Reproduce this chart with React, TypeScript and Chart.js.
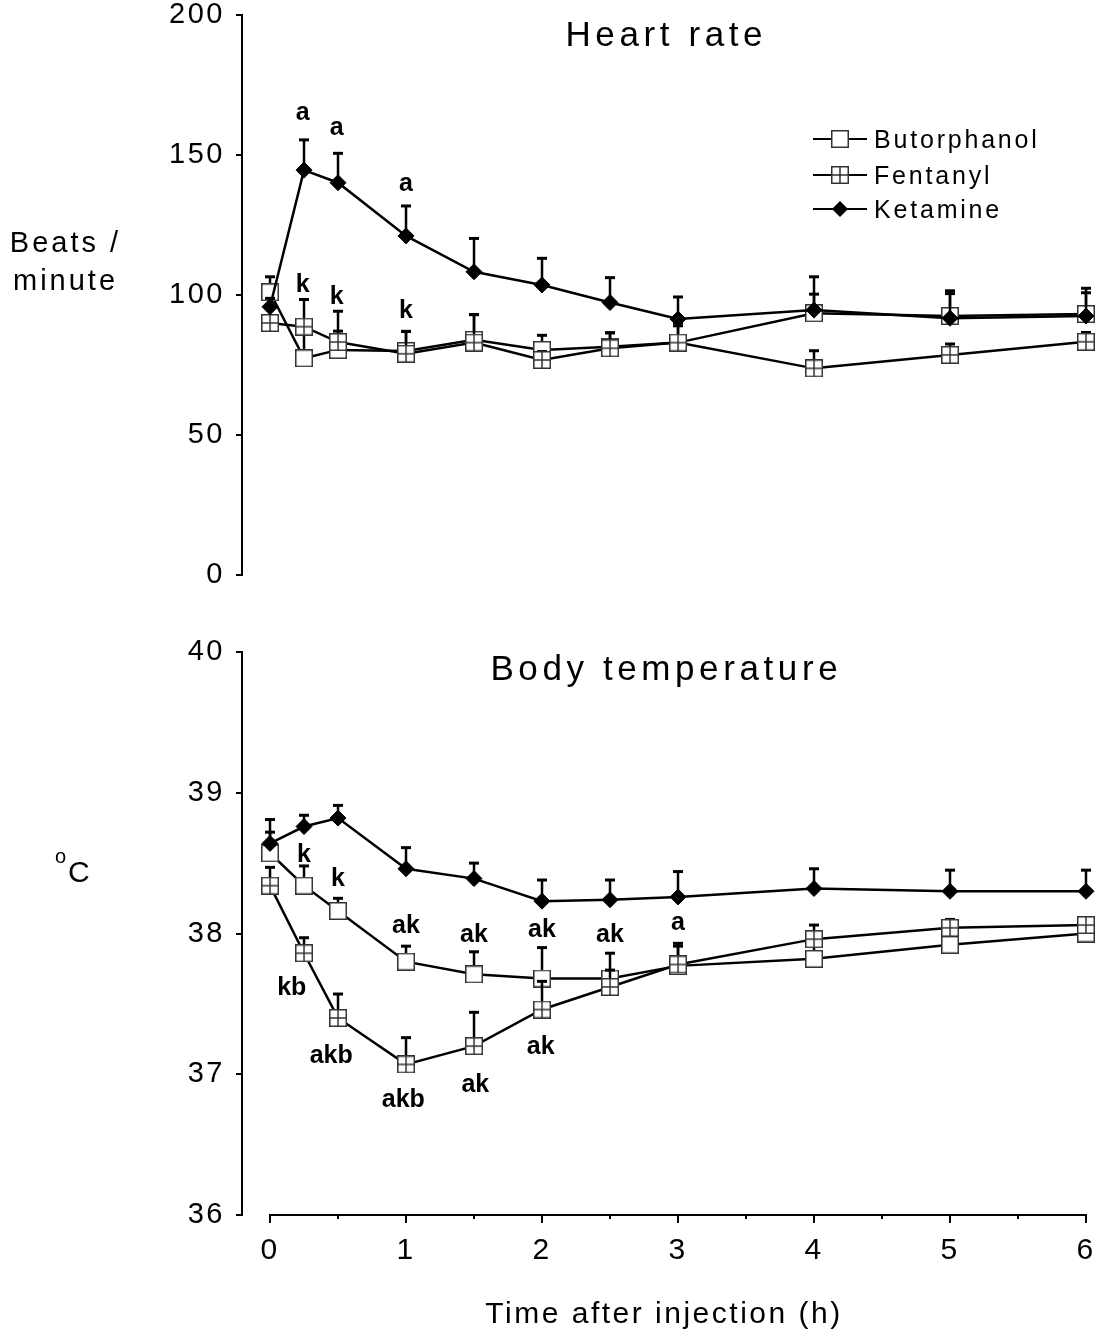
import React, { useEffect, useRef } from 'react';
import { Chart, registerables } from 'chart.js';

Chart.register(...registerables);

// ---------------- data ----------------
const times = [0, 0.25, 0.5, 1, 1.5, 2, 2.5, 3, 4, 5, 6];
const seriesNames = ['Butorphanol', 'Fentanyl', 'Ketamine'];

const hrButorphanol = [101, 77.4, 80.4, 80, 84, 80.4, 81.5, 83, 93.5, 92.5, 93.2];
const hrButorphanolErr = [5.5, 10, 6.7, 7, 9, 5.2, 5, 6, 6.8, 8, 7.6];
const hrFentanyl = [90, 88.7, 83.2, 79, 83, 76.8, 81, 83, 73.8, 78.6, 83.3];
const hrFentanylErr = [2, 9.7, 11, 8, 10, 3, 5.5, 7, 6.3, 3.9, 3.3];
const hrKetamine = [95.8, 144.6, 140.1, 121.1, 108.3, 103.6, 97.3, 91.4, 94.6, 91.7, 92.5];
const hrKetamineErr = [3, 10.8, 10.5, 10.7, 11.9, 9.5, 8.9, 7.9, 11.9, 9.8, 9.9];

const tempButorphanol = [38.57, 38.34, 38.16, 37.8, 37.71, 37.68, 37.68, 37.77, 37.82, 37.92, 38.0];
const tempButorphanolErr = [0.15, 0.14, 0.09, 0.11, 0.16, 0.22, 0.18, 0.16, 0.1, 0.1, 0.05];
const tempFentanyl = [38.34, 37.86, 37.4, 37.07, 37.2, 37.46, 37.62, 37.78, 37.96, 38.04, 38.06];
const tempFentanylErr = [0.13, 0.11, 0.17, 0.19, 0.24, 0.2, 0.12, 0.13, 0.1, 0.06, 0.03];
const tempKetamine = [38.64, 38.76, 38.82, 38.46, 38.39, 38.23, 38.24, 38.26, 38.32, 38.3, 38.3];
const tempKetamineErr = [0.17, 0.08, 0.09, 0.15, 0.11, 0.15, 0.14, 0.18, 0.14, 0.15, 0.15];

const hrTicks = [0, 50, 100, 150, 200];
const hrTickLabels = ['0', '50', '100', '150', '200'];
const tempTicks = [36, 37, 38, 39, 40];
const tempTickLabels = ['36', '37', '38', '39', '40'];
const xMajorTicks = [0, 1, 2, 3, 4, 5, 6];
const xTickLabels = ['0', '1', '2', '3', '4', '5', '6'];
const xMinorTicks = [0.5, 1.5, 2.5, 3.5, 4.5, 5.5];

const hrTitle = 'Heart rate';
const tempTitle = 'Body temperature';
const hrAxisLabel = ['Beats /', 'minute'];
const tempAxisLabel = ['o', 'C'];
const xAxisTitle = 'Time after injection (h)';

// significance letters: [text, time, value]
const hrLetters: [string, number, number][] = [
  ['a', 0.24, 165], ['a', 0.49, 159.3], ['a', 1.0, 139.6],
  ['k', 0.24, 104.3], ['k', 0.49, 100], ['k', 1.0, 95],
];
const tempLetters: [string, number, number][] = [
  ['k', 0.25, 38.57], ['k', 0.5, 38.4], ['ak', 1.0, 38.07], ['ak', 1.5, 38.0],
  ['ak', 2.0, 38.04], ['ak', 2.5, 38.0], ['a', 3.0, 38.07],
  ['kb', 0.16, 37.63], ['akb', 0.45, 37.14], ['akb', 0.98, 36.83], ['ak', 1.51, 36.94], ['ak', 1.99, 37.21],
];

// ---------------- style ----------------
const FONT = '"Liberation Sans", Arial, Helvetica, sans-serif';
const X_MIN = -0.206;
const X_MAX = 6;

function makeSquare(cross: boolean): HTMLCanvasElement {
  const s = 18;
  const c = document.createElement('canvas');
  c.width = s;
  c.height = s;
  const g = c.getContext('2d')!;
  g.fillStyle = '#fff';
  g.fillRect(0, 0, s, s);
  g.strokeStyle = '#333';
  g.lineWidth = 1.5;
  g.strokeRect(0.75, 0.75, s - 1.5, s - 1.5);
  if (cross) {
    g.beginPath();
    g.moveTo(s / 2, 1);
    g.lineTo(s / 2, s - 1);
    g.moveTo(1, s / 2);
    g.lineTo(s - 1, s / 2);
    g.stroke();
  }
  return c;
}

function drawMarker(ctx: CanvasRenderingContext2D, ds: any, x: number, y: number) {
  const st = ds.pointStyle;
  if (st && typeof st === 'object') {
    ctx.drawImage(st, x - st.width / 2, y - st.height / 2);
  } else {
    const r = ds.pointRadius;
    ctx.fillStyle = '#000';
    ctx.beginPath();
    ctx.moveTo(x, y - r);
    ctx.lineTo(x + r, y);
    ctx.lineTo(x, y + r);
    ctx.lineTo(x - r, y);
    ctx.closePath();
    ctx.fill();
  }
}

function spacedText(ctx: CanvasRenderingContext2D, text: string, x: number, y: number, size: number, spacing: number, align: CanvasTextAlign, weight = '') {
  ctx.save();
  (ctx as any).letterSpacing = spacing + 'px';
  ctx.font = `${weight}${size}px ${FONT}`;
  ctx.fillStyle = '#000';
  ctx.textAlign = align;
  ctx.textBaseline = 'alphabetic';
  const dx = align === 'center' ? spacing / 2 : 0;
  ctx.fillText(text, x + dx, y);
  ctx.restore();
}

interface PanelOpts {
  values: number[][];
  errors: number[][];
  yMin: number;
  yMax: number;
  yTicks: number[];
  yTickLabels: string[];
  showX: boolean;
  padTop: number;
  padBottom: number;
  letters: [string, number, number][];
  drawExtra: (chart: any) => void;
}

function buildConfig(p: PanelOpts, sqOpen: HTMLCanvasElement, sqCross: HTMLCanvasElement): any {
  const styles = [
    { pointStyle: sqOpen, radius: 9, order: 3, bg: '#fff' },
    { pointStyle: sqCross, radius: 9, order: 2, bg: '#fff' },
    { pointStyle: 'rectRot', radius: 8, order: 1, bg: '#000' },
  ];
  const datasets = seriesNames.map((name, i) => ({
    label: name,
    data: times.map((t, j) => ({ x: t, y: p.values[i][j] })),
    errors: p.errors[i],
    borderColor: '#000',
    borderWidth: 2.5,
    backgroundColor: styles[i].bg,
    pointStyle: styles[i].pointStyle,
    pointRadius: styles[i].radius,
    pointHoverRadius: styles[i].radius,
    pointBorderWidth: 1,
    pointBackgroundColor: styles[i].bg,
    pointBorderColor: '#000',
    order: styles[i].order,
    clip: false,
    tension: 0,
    fill: false,
  }));

  const spacingPlugin = {
    id: 'spacing',
    beforeDraw(chart: any) {
      chart.ctx.letterSpacing = '2.5px';
    },
  };

  const errorBarPlugin = {
    id: 'errorBars',
    beforeDatasetDraw(chart: any, args: any) {
      const ds: any = chart.data.datasets[args.index];
      const errs: number[] = ds.errors;
      if (!errs) return;
      const ys = chart.scales.y;
      const ctx = chart.ctx;
      ctx.save();
      ctx.strokeStyle = '#000';
      args.meta.data.forEach((pt: any, j: number) => {
        const top = ys.getPixelForValue(ds.data[j].y + errs[j]);
        ctx.lineWidth = 2.5;
        ctx.beginPath();
        ctx.moveTo(pt.x, pt.y);
        ctx.lineTo(pt.x, top);
        ctx.stroke();
        ctx.lineWidth = 3;
        ctx.beginPath();
        ctx.moveTo(pt.x - 5, top);
        ctx.lineTo(pt.x + 5, top);
        ctx.stroke();
      });
      ctx.restore();
    },
  };

  const lettersPlugin = {
    id: 'letters',
    afterDatasetsDraw(chart: any) {
      const ctx = chart.ctx;
      const xs = chart.scales.x;
      const ys = chart.scales.y;
      const size = 25;
      p.letters.forEach(([txt, t, v]) => {
        const hasAsc = /[kbdlht]/.test(txt);
        const y = ys.getPixelForValue(v) + (hasAsc ? 0.358 : 0.26) * size;
        spacedText(ctx, txt, xs.getPixelForValue(t), y, size, 0, 'center', 'bold ');
      });
    },
  };

  const extraPlugin = {
    id: 'extra',
    afterDraw(chart: any) {
      p.drawExtra(chart);
    },
  };

  return {
    type: 'line',
    data: { datasets },
    plugins: [spacingPlugin, errorBarPlugin, lettersPlugin, extraPlugin],
    options: {
      responsive: false,
      animation: false,
      devicePixelRatio: 1,
      events: [],
      layout: { padding: { left: 0, right: 13, top: p.padTop, bottom: p.padBottom } },
      plugins: { legend: { display: false }, tooltip: { enabled: false }, title: { display: false } },
      scales: {
        x: {
          type: 'linear',
          min: X_MIN,
          max: X_MAX,
          display: p.showX,
          afterBuildTicks: (s: any) => {
            s.ticks = [...xMajorTicks, ...xMinorTicks].sort((a, b) => a - b).map((v) => ({ value: v }));
          },
          afterFit: (s: any) => {
            s.height = p.showX ? 123 : 0;
            s.paddingLeft = 0;
            s.paddingRight = 0;
          },
          grid: { display: true, drawOnChartArea: false, drawTicks: true, tickLength: 8, color: 'rgba(0,0,0,0)' },
          border: { display: false },
          ticks: {
            autoSkip: false,
            maxRotation: 0,
            minRotation: 0,
            padding: 13,
            color: '#000',
            font: { size: 30, family: FONT, lineHeight: 1 },
            callback: (v: number) => {
              const k = xMajorTicks.indexOf(v);
              return k >= 0 ? xTickLabels[k] : '';
            },
          },
          title: {
            display: true,
            text: xAxisTitle,
            color: '#000',
            font: { size: 30, family: FONT },
            padding: { top: 0, bottom: 5 },
          },
        },
        y: {
          type: 'linear',
          min: p.yMin,
          max: p.yMax,
          afterBuildTicks: (s: any) => {
            s.ticks = p.yTicks.map((v) => ({ value: v }));
          },
          afterFit: (s: any) => {
            s.width = 242;
            s.paddingTop = 0;
            s.paddingBottom = 0;
          },
          grid: { drawOnChartArea: false, drawTicks: true, tickLength: 6, color: '#000', lineWidth: 2 },
          border: { display: true, color: '#000', width: 2 },
          ticks: {
            padding: 11,
            color: '#000',
            font: { size: 29, family: FONT, lineHeight: 1 },
            callback: (v: number) => {
              const k = p.yTicks.indexOf(v);
              return k >= 0 ? p.yTickLabels[k] : '';
            },
          },
        },
      },
    },
  };
}

export default function App() {
  const topRef = useRef<HTMLCanvasElement>(null);
  const botRef = useRef<HTMLCanvasElement>(null);

  useEffect(() => {
    const sqOpen = makeSquare(false);
    const sqCross = makeSquare(true);

    const topChart = new Chart(
      topRef.current!,
      buildConfig(
        {
          values: [hrButorphanol, hrFentanyl, hrKetamine],
          errors: [hrButorphanolErr, hrFentanylErr, hrKetamineErr],
          yMin: 0,
          yMax: 200,
          yTicks: hrTicks,
          yTickLabels: hrTickLabels,
          showX: false,
          padTop: 15,
          padBottom: 35,
          letters: hrLetters,
          drawExtra: (chart: any) => {
            const ctx = chart.ctx as CanvasRenderingContext2D;
            const ca = chart.chartArea;
            spacedText(ctx, hrTitle, (ca.left + ca.right) / 2, 46, 35, 4.6, 'center');
            spacedText(ctx, hrAxisLabel[0], 64, 252, 29, 3, 'center');
            spacedText(ctx, hrAxisLabel[1], 64, 290, 29, 3, 'center');
            // legend
            const rows = [139, 175, 209];
            chart.data.datasets.forEach((ds: any, i: number) => {
              const y = rows[i];
              ctx.save();
              ctx.strokeStyle = '#000';
              ctx.lineWidth = 2;
              ctx.beginPath();
              ctx.moveTo(813, y);
              ctx.lineTo(867, y);
              ctx.stroke();
              drawMarker(ctx, ds, 840, y);
              ctx.restore();
              spacedText(ctx, ds.label, 874, y + 9, 25, 2.8, 'left');
            });
          },
        },
        sqOpen,
        sqCross
      )
    );

    const botChart = new Chart(
      botRef.current!,
      buildConfig(
        {
          values: [tempButorphanol, tempFentanyl, tempKetamine],
          errors: [tempButorphanolErr, tempFentanylErr, tempKetamineErr],
          yMin: 36,
          yMax: 40,
          yTicks: tempTicks,
          yTickLabels: tempTickLabels,
          showX: true,
          padTop: 42,
          padBottom: 0,
          letters: tempLetters,
          drawExtra: (chart: any) => {
            const ctx = chart.ctx as CanvasRenderingContext2D;
            const ca = chart.chartArea;
            spacedText(ctx, tempTitle, (ca.left + ca.right) / 2, 69.5, 35, 4.6, 'center');
            spacedText(ctx, tempAxisLabel[0], 55, 253, 20, 0, 'left');
            spacedText(ctx, tempAxisLabel[1], 68, 272, 30, 0, 'left');
            // x axis line and ticks
            const xs = chart.scales.x;
            const yb = ca.bottom;
            ctx.save();
            ctx.strokeStyle = '#000';
            ctx.lineWidth = 2;
            ctx.beginPath();
            ctx.moveTo(xs.getPixelForValue(xMajorTicks[0]) - 1, yb);
            ctx.lineTo(xs.getPixelForValue(xMajorTicks[xMajorTicks.length - 1]) + 1, yb);
            xMajorTicks.forEach((v) => {
              const x = Math.round(xs.getPixelForValue(v));
              ctx.moveTo(x, yb);
              ctx.lineTo(x, yb + 8);
            });
            xMinorTicks.forEach((v) => {
              const x = Math.round(xs.getPixelForValue(v));
              ctx.moveTo(x, yb);
              ctx.lineTo(x, yb + 4);
            });
            ctx.stroke();
            ctx.restore();
          },
        },
        sqOpen,
        sqCross
      )
    );

    return () => {
      topChart.destroy();
      botChart.destroy();
    };
  }, []);

  return (
    <div style={{ position: 'absolute', left: 0, top: 0, width: 1099, height: 1338, background: '#fff' }}>
      <canvas ref={topRef} width={1099} height={610} style={{ position: 'absolute', left: 0, top: 0 }} />
      <canvas ref={botRef} width={1099} height={728} style={{ position: 'absolute', left: 0, top: 610 }} />
    </div>
  );
}
